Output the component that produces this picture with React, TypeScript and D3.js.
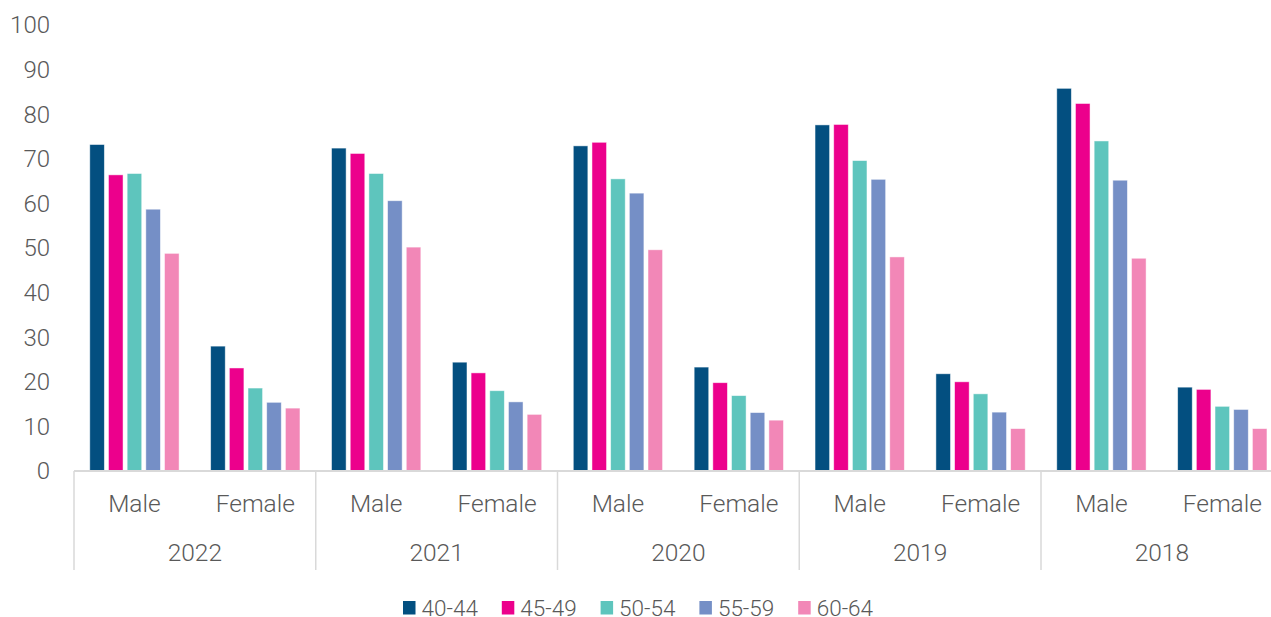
import React from "react";
import * as d3 from "d3";

// chart values
const years = ["2022", "2021", "2020", "2019", "2018"];
const sexes = ["Male", "Female"];
const ageGroups = ["40-44", "45-49", "50-54", "55-59", "60-64"];
const colors = ["#034f80", "#ec008c", "#5ec5bd", "#758fc6", "#f287b7"];

// one array per age group, order: year x sex (Male, Female)
const age4044 = [73.2, 28.0, 72.4, 24.4, 72.9, 23.3, 77.6, 21.8, 85.8, 18.8];
const age4549 = [66.4, 23.1, 71.2, 22.0, 73.7, 19.8, 77.7, 20.0, 82.4, 18.3];
const age5054 = [66.7, 18.6, 66.7, 18.0, 65.5, 16.9, 69.6, 17.3, 74.0, 14.5];
const age5559 = [58.7, 15.4, 60.6, 15.5, 62.3, 13.1, 65.4, 13.2, 65.2, 13.8];
const age6064 = [48.8, 14.1, 50.2, 12.7, 49.6, 11.4, 48.0, 9.5, 47.7, 9.5];
const seriesValues = [age4044, age4549, age5054, age5559, age6064];

const yTicks = d3.range(0, 101, 10);

const W = 1271;
const H = 617;
const left = 74;
const right = 74 + 5 * 241.75;
const top = 25;
const bottom = 471;

const font = "Roboto, 'Noto Sans', sans-serif";
const textColor = "#595959";
const gridColor = "#d9d9d9";

const App = () => {
  const yearScale = d3.scaleBand().domain(years).range([left, right]);
  const groups = years.flatMap(y => sexes.map(s => `${y}|${s}`));
  const groupScale = d3.scaleBand().domain(groups).range([left, right]);
  const barScale = d3
    .scaleBand()
    .domain(ageGroups)
    .range([0, groupScale.bandwidth()])
    .paddingInner(0.22)
    .paddingOuter(0.845);
  const yScale = d3.scaleLinear().domain([0, 100]).range([bottom, top]);

  const bars = seriesValues.flatMap((vals, si) =>
    vals.map((v, gi) => (
      <rect
        key={`${si}-${gi}`}
        x={(groupScale(groups[gi]) ?? 0) + (barScale(ageGroups[si]) ?? 0)}
        y={yScale(v)}
        width={barScale.bandwidth()}
        height={yScale(0) - yScale(v)}
        fill={colors[si]}
        stroke="#ffffff"
        strokeOpacity={0.6}
        strokeWidth={0.8}
      />
    ))
  );

  const separators = [...years.map(y => yearScale(y) ?? 0), right];

  return (
    <svg
      width={W}
      height={H}
      style={{ position: "absolute", left: 0, top: 0, background: "#fff" }}
      fontFamily={font}
      fontWeight={300}
    >
      {/* y tick labels */}
      {yTicks.map(t => (
        <text
          key={t}
          x={50}
          y={yScale(t)}
          dy="0.35em"
          textAnchor="end"
          fontSize={24}
          fill={textColor}
        >
          {t}
        </text>
      ))}

      {bars}

      {/* x axis */}
      <line x1={left} x2={right} y1={bottom} y2={bottom} stroke={gridColor} strokeWidth={2} />
      {separators.map((x, i) => (
        <line key={i} x1={x} x2={x} y1={bottom} y2={570} stroke={gridColor} strokeWidth={1.5} />
      ))}

      {/* sex labels */}
      {groups.map(g => (
        <text
          key={g}
          x={(groupScale(g) ?? 0) + groupScale.bandwidth() / 2}
          y={503}
          dy="0.35em"
          textAnchor="middle"
          fontSize={24.5}
          fill={textColor}
        >
          {g.split("|")[1]}
        </text>
      ))}

      {/* year labels */}
      {years.map(y => (
        <text
          key={y}
          x={(yearScale(y) ?? 0) + yearScale.bandwidth() / 2}
          y={552}
          dy="0.35em"
          textAnchor="middle"
          fontSize={24.5}
          fill={textColor}
        >
          {y}
        </text>
      ))}

      {/* legend */}
      {ageGroups.map((a, i) => (
        <g key={a} transform={`translate(${403 + i * 98.8}, 601)`}>
          <rect width={12.5} height={13.5} fill={colors[i]} />
          <text x={18.5} y={14.5} fontSize={22.5} fill={textColor}>
            {a}
          </text>
        </g>
      ))}
    </svg>
  );
};

export default App;
